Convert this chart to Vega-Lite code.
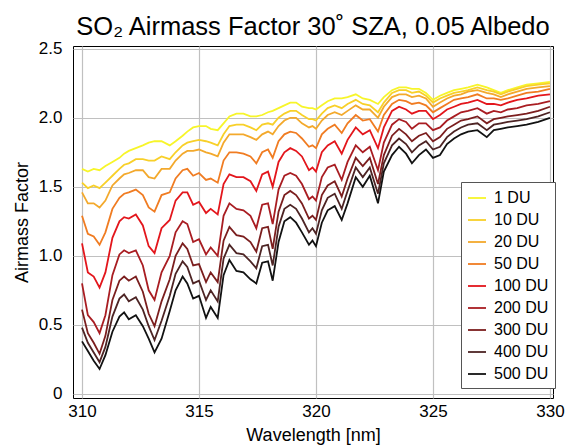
{
"$schema": "https://vega.github.io/schema/vega-lite/v6.json",
"width": 480, "height": 352,
"autosize": {"type": "none"},
"padding": {"left": 73, "top": 46, "right": 12, "bottom": 50},
"background": "white",
"title": {"text": "SO₂ Airmass Factor 30˚ SZA, 0.05 Albedo", "fontSize": 25.5, "font": "Liberation Sans", "fontWeight": "normal", "color": "black", "anchor": "middle", "offset": -1},
"data": {"values": [
{"w":310.0,"1 DU":1.63,"10 DU":1.53,"20 DU":1.46,"50 DU":1.29,"100 DU":1.09,"200 DU":0.80,"300 DU":0.61,"400 DU":0.48,"500 DU":0.38},
{"w":310.25,"1 DU":1.61,"10 DU":1.49,"20 DU":1.38,"50 DU":1.16,"100 DU":0.88,"200 DU":0.57,"300 DU":0.44,"400 DU":0.37,"500 DU":0.31},
{"w":310.5,"1 DU":1.63,"10 DU":1.51,"20 DU":1.38,"50 DU":1.14,"100 DU":0.85,"200 DU":0.52,"300 DU":0.37,"400 DU":0.30,"500 DU":0.24},
{"w":310.75,"1 DU":1.62,"10 DU":1.49,"20 DU":1.35,"50 DU":1.08,"100 DU":0.77,"200 DU":0.44,"300 DU":0.29,"400 DU":0.23,"500 DU":0.18},
{"w":311.0,"1 DU":1.65,"10 DU":1.53,"20 DU":1.40,"50 DU":1.17,"100 DU":0.88,"200 DU":0.57,"300 DU":0.42,"400 DU":0.34,"500 DU":0.28},
{"w":311.3,"1 DU":1.68,"10 DU":1.58,"20 DU":1.51,"50 DU":1.34,"100 DU":1.13,"200 DU":0.86,"300 DU":0.68,"400 DU":0.56,"500 DU":0.45},
{"w":311.6,"1 DU":1.71,"10 DU":1.63,"20 DU":1.56,"50 DU":1.42,"100 DU":1.25,"200 DU":1.01,"300 DU":0.82,"400 DU":0.69,"500 DU":0.56},
{"w":311.8,"1 DU":1.74,"10 DU":1.66,"20 DU":1.59,"50 DU":1.45,"100 DU":1.28,"200 DU":1.04,"300 DU":0.85,"400 DU":0.72,"500 DU":0.59},
{"w":312.0,"1 DU":1.76,"10 DU":1.67,"20 DU":1.60,"50 DU":1.46,"100 DU":1.27,"200 DU":1.02,"300 DU":0.82,"400 DU":0.67,"500 DU":0.54},
{"w":312.3,"1 DU":1.78,"10 DU":1.70,"20 DU":1.62,"50 DU":1.48,"100 DU":1.30,"200 DU":1.04,"300 DU":0.85,"400 DU":0.70,"500 DU":0.57},
{"w":312.6,"1 DU":1.80,"10 DU":1.70,"20 DU":1.62,"50 DU":1.44,"100 DU":1.22,"200 DU":0.93,"300 DU":0.74,"400 DU":0.61,"500 DU":0.49},
{"w":312.85,"1 DU":1.82,"10 DU":1.69,"20 DU":1.57,"50 DU":1.35,"100 DU":1.07,"200 DU":0.75,"300 DU":0.58,"400 DU":0.49,"500 DU":0.40},
{"w":313.1,"1 DU":1.83,"10 DU":1.69,"20 DU":1.56,"50 DU":1.32,"100 DU":1.02,"200 DU":0.68,"300 DU":0.49,"400 DU":0.39,"500 DU":0.30},
{"w":313.4,"1 DU":1.83,"10 DU":1.72,"20 DU":1.63,"50 DU":1.44,"100 DU":1.20,"200 DU":0.88,"300 DU":0.67,"400 DU":0.53,"500 DU":0.40},
{"w":313.75,"1 DU":1.80,"10 DU":1.70,"20 DU":1.63,"50 DU":1.46,"100 DU":1.26,"200 DU":1.00,"300 DU":0.83,"400 DU":0.71,"500 DU":0.60},
{"w":314.0,"1 DU":1.83,"10 DU":1.75,"20 DU":1.69,"50 DU":1.56,"100 DU":1.40,"200 DU":1.17,"300 DU":1.00,"400 DU":0.87,"500 DU":0.75},
{"w":314.3,"1 DU":1.87,"10 DU":1.80,"20 DU":1.74,"50 DU":1.62,"100 DU":1.46,"200 DU":1.25,"300 DU":1.09,"400 DU":0.96,"500 DU":0.85},
{"w":314.5,"1 DU":1.90,"10 DU":1.82,"20 DU":1.76,"50 DU":1.63,"100 DU":1.46,"200 DU":1.23,"300 DU":1.05,"400 DU":0.92,"500 DU":0.80},
{"w":314.75,"1 DU":1.93,"10 DU":1.83,"20 DU":1.76,"50 DU":1.58,"100 DU":1.37,"200 DU":1.10,"300 DU":0.93,"400 DU":0.80,"500 DU":0.69},
{"w":315.0,"1 DU":1.94,"10 DU":1.84,"20 DU":1.77,"50 DU":1.60,"100 DU":1.39,"200 DU":1.12,"300 DU":0.94,"400 DU":0.82,"500 DU":0.71},
{"w":315.3,"1 DU":1.94,"10 DU":1.83,"20 DU":1.75,"50 DU":1.55,"100 DU":1.31,"200 DU":1.01,"300 DU":0.81,"400 DU":0.68,"500 DU":0.55},
{"w":315.5,"1 DU":1.92,"10 DU":1.82,"20 DU":1.74,"50 DU":1.56,"100 DU":1.34,"200 DU":1.06,"300 DU":0.88,"400 DU":0.75,"500 DU":0.63},
{"w":315.8,"1 DU":1.91,"10 DU":1.80,"20 DU":1.72,"50 DU":1.53,"100 DU":1.30,"200 DU":1.00,"300 DU":0.81,"400 DU":0.67,"500 DU":0.55},
{"w":316.05,"1 DU":1.96,"10 DU":1.88,"20 DU":1.82,"50 DU":1.69,"100 DU":1.52,"200 DU":1.29,"300 DU":1.11,"400 DU":0.98,"500 DU":0.86},
{"w":316.3,"1 DU":2.01,"10 DU":1.94,"20 DU":1.88,"50 DU":1.75,"100 DU":1.59,"200 DU":1.38,"300 DU":1.21,"400 DU":1.08,"500 DU":0.97},
{"w":316.6,"1 DU":2.03,"10 DU":1.95,"20 DU":1.88,"50 DU":1.75,"100 DU":1.57,"200 DU":1.34,"300 DU":1.15,"400 DU":1.02,"500 DU":0.89},
{"w":316.9,"1 DU":2.03,"10 DU":1.95,"20 DU":1.88,"50 DU":1.74,"100 DU":1.57,"200 DU":1.33,"300 DU":1.14,"400 DU":1.01,"500 DU":0.88},
{"w":317.2,"1 DU":2.01,"10 DU":1.93,"20 DU":1.86,"50 DU":1.72,"100 DU":1.54,"200 DU":1.29,"300 DU":1.10,"400 DU":0.96,"500 DU":0.83},
{"w":317.45,"1 DU":2.01,"10 DU":1.91,"20 DU":1.84,"50 DU":1.67,"100 DU":1.47,"200 DU":1.20,"300 DU":1.03,"400 DU":0.91,"500 DU":0.80},
{"w":317.7,"1 DU":2.02,"10 DU":1.95,"20 DU":1.88,"50 DU":1.75,"100 DU":1.59,"200 DU":1.37,"300 DU":1.20,"400 DU":1.07,"500 DU":0.95},
{"w":317.95,"1 DU":2.04,"10 DU":1.96,"20 DU":1.90,"50 DU":1.77,"100 DU":1.61,"200 DU":1.38,"300 DU":1.21,"400 DU":1.08,"500 DU":0.96},
{"w":318.15,"1 DU":2.05,"10 DU":1.95,"20 DU":1.88,"50 DU":1.71,"100 DU":1.50,"200 DU":1.23,"300 DU":1.05,"400 DU":0.93,"500 DU":0.82},
{"w":318.4,"1 DU":2.07,"10 DU":2.00,"20 DU":1.94,"50 DU":1.83,"100 DU":1.68,"200 DU":1.48,"300 DU":1.32,"400 DU":1.21,"500 DU":1.10},
{"w":318.65,"1 DU":2.09,"10 DU":2.03,"20 DU":1.98,"50 DU":1.88,"100 DU":1.75,"200 DU":1.58,"300 DU":1.44,"400 DU":1.34,"500 DU":1.25},
{"w":318.9,"1 DU":2.11,"10 DU":2.05,"20 DU":2.00,"50 DU":1.90,"100 DU":1.78,"200 DU":1.60,"300 DU":1.47,"400 DU":1.37,"500 DU":1.28},
{"w":319.15,"1 DU":2.11,"10 DU":2.05,"20 DU":2.00,"50 DU":1.89,"100 DU":1.76,"200 DU":1.58,"300 DU":1.44,"400 DU":1.34,"500 DU":1.24},
{"w":319.4,"1 DU":2.08,"10 DU":2.02,"20 DU":1.96,"50 DU":1.85,"100 DU":1.72,"200 DU":1.52,"300 DU":1.38,"400 DU":1.27,"500 DU":1.17},
{"w":319.7,"1 DU":2.07,"10 DU":1.99,"20 DU":1.93,"50 DU":1.79,"100 DU":1.62,"200 DU":1.41,"300 DU":1.27,"400 DU":1.17,"500 DU":1.08},
{"w":319.85,"1 DU":2.07,"10 DU":1.99,"20 DU":1.94,"50 DU":1.80,"100 DU":1.64,"200 DU":1.43,"300 DU":1.29,"400 DU":1.20,"500 DU":1.11},
{"w":320.0,"1 DU":2.06,"10 DU":1.98,"20 DU":1.92,"50 DU":1.78,"100 DU":1.61,"200 DU":1.40,"300 DU":1.26,"400 DU":1.16,"500 DU":1.07},
{"w":320.25,"1 DU":2.09,"10 DU":2.03,"20 DU":1.98,"50 DU":1.88,"100 DU":1.75,"200 DU":1.57,"300 DU":1.44,"400 DU":1.33,"500 DU":1.24},
{"w":320.5,"1 DU":2.12,"10 DU":2.07,"20 DU":2.02,"50 DU":1.92,"100 DU":1.80,"200 DU":1.64,"300 DU":1.51,"400 DU":1.42,"500 DU":1.33},
{"w":320.8,"1 DU":2.14,"10 DU":2.09,"20 DU":2.04,"50 DU":1.95,"100 DU":1.83,"200 DU":1.66,"300 DU":1.54,"400 DU":1.45,"500 DU":1.36},
{"w":321.1,"1 DU":2.14,"10 DU":2.07,"20 DU":2.02,"50 DU":1.89,"100 DU":1.74,"200 DU":1.55,"300 DU":1.43,"400 DU":1.34,"500 DU":1.26},
{"w":321.35,"1 DU":2.15,"10 DU":2.10,"20 DU":2.05,"50 DU":1.96,"100 DU":1.84,"200 DU":1.68,"300 DU":1.56,"400 DU":1.47,"500 DU":1.38},
{"w":321.7,"1 DU":2.17,"10 DU":2.13,"20 DU":2.09,"50 DU":2.02,"100 DU":1.93,"200 DU":1.80,"300 DU":1.71,"400 DU":1.64,"500 DU":1.57},
{"w":322.0,"1 DU":2.14,"10 DU":2.10,"20 DU":2.06,"50 DU":1.98,"100 DU":1.88,"200 DU":1.75,"300 DU":1.65,"400 DU":1.57,"500 DU":1.50},
{"w":322.3,"1 DU":2.13,"10 DU":2.09,"20 DU":2.06,"50 DU":1.99,"100 DU":1.91,"200 DU":1.79,"300 DU":1.71,"400 DU":1.64,"500 DU":1.58},
{"w":322.65,"1 DU":2.10,"10 DU":2.04,"20 DU":2.00,"50 DU":1.90,"100 DU":1.78,"200 DU":1.62,"300 DU":1.52,"400 DU":1.45,"500 DU":1.38},
{"w":322.9,"1 DU":2.15,"10 DU":2.11,"20 DU":2.08,"50 DU":2.02,"100 DU":1.93,"200 DU":1.82,"300 DU":1.73,"400 DU":1.67,"500 DU":1.61},
{"w":323.25,"1 DU":2.20,"10 DU":2.18,"20 DU":2.15,"50 DU":2.10,"100 DU":2.05,"200 DU":1.95,"300 DU":1.87,"400 DU":1.80,"500 DU":1.73},
{"w":323.55,"1 DU":2.22,"10 DU":2.20,"20 DU":2.17,"50 DU":2.13,"100 DU":2.08,"200 DU":1.99,"300 DU":1.92,"400 DU":1.85,"500 DU":1.79},
{"w":323.85,"1 DU":2.22,"10 DU":2.20,"20 DU":2.17,"50 DU":2.12,"100 DU":2.06,"200 DU":1.97,"300 DU":1.88,"400 DU":1.81,"500 DU":1.74},
{"w":324.1,"1 DU":2.21,"10 DU":2.18,"20 DU":2.15,"50 DU":2.10,"100 DU":2.03,"200 DU":1.92,"300 DU":1.83,"400 DU":1.75,"500 DU":1.67},
{"w":324.4,"1 DU":2.21,"10 DU":2.19,"20 DU":2.16,"50 DU":2.11,"100 DU":2.05,"200 DU":1.96,"300 DU":1.87,"400 DU":1.80,"500 DU":1.73},
{"w":324.7,"1 DU":2.18,"10 DU":2.16,"20 DU":2.14,"50 DU":2.09,"100 DU":2.05,"200 DU":1.96,"300 DU":1.89,"400 DU":1.83,"500 DU":1.77},
{"w":325.0,"1 DU":2.13,"10 DU":2.11,"20 DU":2.08,"50 DU":2.04,"100 DU":1.99,"200 DU":1.91,"300 DU":1.83,"400 DU":1.77,"500 DU":1.71},
{"w":325.3,"1 DU":2.16,"10 DU":2.14,"20 DU":2.11,"50 DU":2.07,"100 DU":2.02,"200 DU":1.93,"300 DU":1.86,"400 DU":1.79,"500 DU":1.73},
{"w":325.6,"1 DU":2.18,"10 DU":2.16,"20 DU":2.14,"50 DU":2.10,"100 DU":2.06,"200 DU":1.98,"300 DU":1.92,"400 DU":1.86,"500 DU":1.81},
{"w":325.9,"1 DU":2.20,"10 DU":2.18,"20 DU":2.16,"50 DU":2.13,"100 DU":2.08,"200 DU":2.01,"300 DU":1.95,"400 DU":1.90,"500 DU":1.85},
{"w":326.2,"1 DU":2.21,"10 DU":2.19,"20 DU":2.17,"50 DU":2.14,"100 DU":2.10,"200 DU":2.04,"300 DU":1.98,"400 DU":1.93,"500 DU":1.88},
{"w":326.5,"1 DU":2.22,"10 DU":2.20,"20 DU":2.19,"50 DU":2.15,"100 DU":2.11,"200 DU":2.05,"300 DU":1.99,"400 DU":1.95,"500 DU":1.90},
{"w":326.9,"1 DU":2.24,"10 DU":2.22,"20 DU":2.20,"50 DU":2.17,"100 DU":2.13,"200 DU":2.07,"300 DU":2.01,"400 DU":1.96,"500 DU":1.91},
{"w":327.3,"1 DU":2.22,"10 DU":2.20,"20 DU":2.18,"50 DU":2.14,"100 DU":2.10,"200 DU":2.03,"300 DU":1.96,"400 DU":1.91,"500 DU":1.86},
{"w":327.6,"1 DU":2.20,"10 DU":2.19,"20 DU":2.17,"50 DU":2.14,"100 DU":2.10,"200 DU":2.05,"300 DU":1.99,"400 DU":1.95,"500 DU":1.91},
{"w":327.9,"1 DU":2.18,"10 DU":2.17,"20 DU":2.15,"50 DU":2.13,"100 DU":2.09,"200 DU":2.04,"300 DU":2.00,"400 DU":1.96,"500 DU":1.92},
{"w":328.2,"1 DU":2.20,"10 DU":2.19,"20 DU":2.17,"50 DU":2.14,"100 DU":2.11,"200 DU":2.06,"300 DU":2.01,"400 DU":1.97,"500 DU":1.93},
{"w":328.6,"1 DU":2.22,"10 DU":2.21,"20 DU":2.19,"50 DU":2.16,"100 DU":2.13,"200 DU":2.07,"300 DU":2.02,"400 DU":1.98,"500 DU":1.94},
{"w":329.0,"1 DU":2.24,"10 DU":2.23,"20 DU":2.21,"50 DU":2.18,"100 DU":2.14,"200 DU":2.09,"300 DU":2.03,"400 DU":1.99,"500 DU":1.95},
{"w":329.5,"1 DU":2.25,"10 DU":2.24,"20 DU":2.22,"50 DU":2.19,"100 DU":2.16,"200 DU":2.10,"300 DU":2.05,"400 DU":2.01,"500 DU":1.97},
{"w":330.0,"1 DU":2.26,"10 DU":2.25,"20 DU":2.23,"50 DU":2.21,"100 DU":2.17,"200 DU":2.12,"300 DU":2.08,"400 DU":2.04,"500 DU":2.00}
]},
"transform": [{"fold": ["1 DU","10 DU","20 DU","50 DU","100 DU","200 DU","300 DU","400 DU","500 DU"], "as": ["series","amf"]}],
"mark": {"type": "line", "strokeWidth": 1.8, "clip": true},
"encoding": {
  "x": {"field": "w", "type": "quantitative", "scale": {"domain": [309.615, 330.13], "nice": false, "zero": false},
        "axis": {"values": [310,315,320,325,330], "title": "Wavelength [nm]", "labelPadding": 5, "titlePadding": 7}},
  "y": {"field": "amf", "type": "quantitative", "scale": {"domain": [-0.03, 2.52], "nice": false, "zero": false},
        "axis": {"values": [0,0.5,1,1.5,2,2.5], "labelExpr": "datum.value == 0 ? '0' : format(datum.value, '.1f')", "title": "Airmass Factor", "labelPadding": 11, "titlePadding": 7}},
  "color": {"field": "series", "type": "nominal",
        "scale": {"domain": ["1 DU","10 DU","20 DU","50 DU","100 DU","200 DU","300 DU","400 DU","500 DU"],
                  "range": ["#f7f52a","#f8d029","#f3a92c","#f07c22","#e3161c","#a91d22","#7b1e1e","#4d2424","#121212"]},
        "legend": {"orient": "none", "legendX": 388, "legendY": 136, "title": null, "symbolType": "stroke", "symbolStrokeWidth": 1.8, "symbolSize": 324,
                   "labelFontSize": 16, "labelFont": "Liberation Sans", "labelColor": "black", "rowPadding": 4, "labelOffset": 7,
                   "strokeColor": "#555555", "fillColor": "white", "padding": 6}}
},
"config": {
  "font": "Liberation Sans",
  "view": {"stroke": "black", "strokeWidth": 1},
  "axis": {"labelFontSize": 17, "titleFontSize": 18, "titleFontWeight": "normal", "labelColor": "black", "titleColor": "black",
           "labelFont": "Liberation Sans", "titleFont": "Liberation Sans",
           "domain": false, "ticks": false, "grid": true, "gridColor": "#c0c0c0", "gridWidth": 1.2}
}
}
